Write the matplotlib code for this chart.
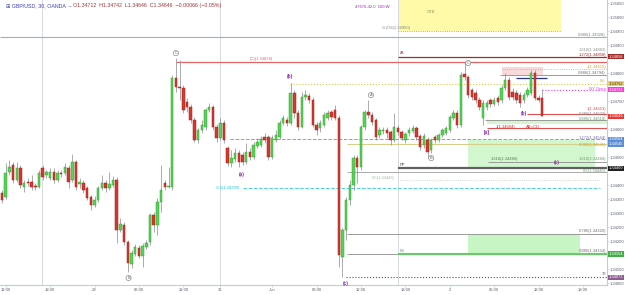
import matplotlib
matplotlib.use("Agg")
import matplotlib.pyplot as plt
from matplotlib.patches import Rectangle
import matplotlib.transforms as mtransforms
import numpy as np

plt.rcParams['font.family'] = ['Liberation Sans', 'DejaVu Sans']

# ---- candle data (30 min bars) ----
opens = [1.34371, 1.34357, 1.34446, 1.34471, 1.34418, 1.34461, 1.34393, 1.34411, 1.34411, 1.34396,
         1.34393, 1.34461, 1.34436, 1.34425, 1.34446, 1.34418, 1.34443, 1.34443, 1.34461, 1.34418,
         1.34482, 1.34404, 1.34407, 1.34389, 1.34357, 1.34329, 1.34346, 1.34389, 1.34407, 1.34389,
         1.34400, 1.34418, 1.34239, 1.34257, 1.34196, 1.34118, 1.34154, 1.34175, 1.34146, 1.34179,
         1.34196, 1.34293, 1.34257, 1.34339, 1.34407, 1.34393, 1.34393, 1.34782, 1.34750, 1.34746,
         1.34696, 1.34679, 1.34632, 1.34561, 1.34596, 1.34607, 1.34668, 1.34679, 1.34607, 1.34568,
         1.34621, 1.34532, 1.34479, 1.34493, 1.34514, 1.34507, 1.34482, 1.34518, 1.34500, 1.34539,
         1.34543, 1.34571, 1.34571, 1.34500, 1.34561, 1.34571, 1.34621, 1.34632, 1.34621, 1.34729,
         1.34657, 1.34607, 1.34714, 1.34718, 1.34704, 1.34614, 1.34604, 1.34614, 1.34639, 1.34661,
         1.34668, 1.34639, 1.34143, 1.34239, 1.34346, 1.34400, 1.34496, 1.34464, 1.34607, 1.34661,
         1.34650, 1.34632, 1.34579, 1.34593, 1.34596, 1.34589, 1.34561, 1.34604, 1.34589, 1.34561,
         1.34586, 1.34593, 1.34604, 1.34575, 1.34543, 1.34561, 1.34525, 1.34571, 1.34561, 1.34579,
         1.34586, 1.34596, 1.34639, 1.34657, 1.34614, 1.34796, 1.34786, 1.34739, 1.34729, 1.34704,
         1.34639, 1.34679, 1.34704, 1.34689, 1.34711, 1.34704, 1.34746, 1.34775, 1.34732, 1.34729,
         1.34721, 1.34704, 1.34721, 1.34729, 1.34800, 1.34711, 1.34712]
highs = [1.34382, 1.34479, 1.34489, 1.34482, 1.34482, 1.34471, 1.34418, 1.34425, 1.34436, 1.34407,
         1.34454, 1.34471, 1.34454, 1.34461, 1.34461, 1.34454, 1.34454, 1.34479, 1.34471, 1.34511,
         1.34489, 1.34425, 1.34418, 1.34396, 1.34364, 1.34361, 1.34396, 1.34436, 1.34418, 1.34446,
         1.34432, 1.34429, 1.34282, 1.34268, 1.34204, 1.34168, 1.34189, 1.34186, 1.34193, 1.34204,
         1.34300, 1.34304, 1.34354, 1.34471, 1.34418, 1.34464, 1.34793, 1.34854, 1.34846, 1.34757,
         1.34711, 1.34689, 1.34643, 1.34604, 1.34632, 1.34675, 1.34693, 1.34686, 1.34618, 1.34639,
         1.34632, 1.34539, 1.34525, 1.34532, 1.34525, 1.34518, 1.34550, 1.34532, 1.34554, 1.34568,
         1.34575, 1.34586, 1.34579, 1.34579, 1.34596, 1.34632, 1.34650, 1.34643, 1.34764, 1.34739,
         1.34668, 1.34732, 1.34739, 1.34729, 1.34714, 1.34625, 1.34632, 1.34661, 1.34668, 1.34668,
         1.34686, 1.34650, 1.34246, 1.34357, 1.34418, 1.34507, 1.34507, 1.34614, 1.34668, 1.34704,
         1.34661, 1.34639, 1.34607, 1.34607, 1.34607, 1.34596, 1.34657, 1.34614, 1.34596, 1.34589,
         1.34607, 1.34614, 1.34611, 1.34582, 1.34586, 1.34571, 1.34568, 1.34579, 1.34586, 1.34604,
         1.34611, 1.34650, 1.34668, 1.34668, 1.34804, 1.34839, 1.34793, 1.34746, 1.34739, 1.34714,
         1.34704, 1.34704, 1.34711, 1.34714, 1.34721, 1.34757, 1.34800, 1.34786, 1.34746, 1.34739,
         1.34732, 1.34732, 1.34750, 1.34811, 1.34811, 1.34721, 1.34742]
lows = [1.34336, 1.34350, 1.34436, 1.34407, 1.34411, 1.34389, 1.34375, 1.34396, 1.34382, 1.34382,
        1.34389, 1.34418, 1.34425, 1.34418, 1.34407, 1.34411, 1.34429, 1.34436, 1.34389, 1.34411,
        1.34382, 1.34389, 1.34371, 1.34346, 1.34311, 1.34321, 1.34339, 1.34382, 1.34375, 1.34382,
        1.34393, 1.34193, 1.34232, 1.34186, 1.34089, 1.34104, 1.34146, 1.34139, 1.34107, 1.34171,
        1.34186, 1.34232, 1.34221, 1.34304, 1.34382, 1.34389, 1.34382, 1.34732, 1.34704, 1.34657,
        1.34661, 1.34621, 1.34554, 1.34550, 1.34586, 1.34596, 1.34661, 1.34596, 1.34554, 1.34561,
        1.34550, 1.34468, 1.34464, 1.34482, 1.34464, 1.34471, 1.34475, 1.34489, 1.34493, 1.34532,
        1.34536, 1.34550, 1.34489, 1.34493, 1.34554, 1.34564, 1.34614, 1.34611, 1.34614, 1.34639,
        1.34596, 1.34604, 1.34704, 1.34693, 1.34607, 1.34579, 1.34589, 1.34607, 1.34632, 1.34632,
        1.34632, 1.34107, 1.34071, 1.34204, 1.34329, 1.34382, 1.34407, 1.34454, 1.34596, 1.34639,
        1.34614, 1.34561, 1.34568, 1.34582, 1.34568, 1.34543, 1.34554, 1.34579, 1.34561, 1.34550,
        1.34575, 1.34586, 1.34561, 1.34525, 1.34532, 1.34500, 1.34514, 1.34550, 1.34554, 1.34571,
        1.34579, 1.34589, 1.34632, 1.34604, 1.34607, 1.34775, 1.34711, 1.34704, 1.34693, 1.34668,
        1.34614, 1.34668, 1.34679, 1.34682, 1.34686, 1.34693, 1.34739, 1.34704, 1.34704, 1.34693,
        1.34679, 1.34693, 1.34714, 1.34721, 1.34704, 1.34696, 1.34646]
closes = [1.34346, 1.34443, 1.34464, 1.34418, 1.34461, 1.34400, 1.34407, 1.34407, 1.34393, 1.34393,
          1.34443, 1.34429, 1.34446, 1.34446, 1.34418, 1.34443, 1.34439, 1.34464, 1.34411, 1.34482,
          1.34393, 1.34411, 1.34382, 1.34354, 1.34329, 1.34346, 1.34389, 1.34407, 1.34389, 1.34404,
          1.34418, 1.34239, 1.34261, 1.34196, 1.34121, 1.34157, 1.34179, 1.34146, 1.34182, 1.34193,
          1.34293, 1.34257, 1.34339, 1.34382, 1.34393, 1.34396, 1.34782, 1.34750, 1.34746, 1.34668,
          1.34679, 1.34632, 1.34561, 1.34596, 1.34614, 1.34668, 1.34679, 1.34607, 1.34568, 1.34621,
          1.34561, 1.34479, 1.34496, 1.34514, 1.34482, 1.34482, 1.34518, 1.34500, 1.34543, 1.34554,
          1.34564, 1.34561, 1.34500, 1.34568, 1.34579, 1.34621, 1.34639, 1.34621, 1.34729, 1.34657,
          1.34607, 1.34714, 1.34721, 1.34704, 1.34614, 1.34596, 1.34621, 1.34650, 1.34657, 1.34643,
          1.34639, 1.34150, 1.34239, 1.34346, 1.34400, 1.34496, 1.34464, 1.34607, 1.34661, 1.34650,
          1.34625, 1.34571, 1.34596, 1.34596, 1.34586, 1.34561, 1.34607, 1.34589, 1.34568, 1.34582,
          1.34596, 1.34604, 1.34571, 1.34536, 1.34575, 1.34518, 1.34561, 1.34561, 1.34579, 1.34596,
          1.34604, 1.34643, 1.34657, 1.34614, 1.34793, 1.34786, 1.34721, 1.34714, 1.34704, 1.34679,
          1.34693, 1.34693, 1.34689, 1.34704, 1.34696, 1.34746, 1.34775, 1.34714, 1.34714, 1.34704,
          1.34693, 1.34721, 1.34739, 1.34800, 1.34711, 1.34704, 1.34646]

# ---- axis labels ----
tick_pos = [1, 13, 25, 37, 49, 59, 73, 85, 97, 109, 121, 133, 145, 157]
tick_labels = ["12:00", "18:00", "29", "06:00", "12:00", "31", "Jun", "06:00",
               "12:00", "18:00", "2", "06:00", "12:00", "18:00"]
day_breaks = [10.8, 59, 107]
price_ticks = [1.3405, 1.3410, 1.3420, 1.3425, 1.3430, 1.3435, 1.3440, 1.3450,
               1.3460, 1.3470, 1.3480, 1.3490, 1.3495, 1.3500, 1.3505]

# right axis price tags
tag_prices = [1.34858, 1.34762, 1.34741, 1.34646, 1.34564, 1.34545, 1.34460, 1.34154, 1.34071]
tag_colors = ['#a52a2a', '#f0d060', '#ff3dd4', '#e53935', '#5b8ed6', '#5b8ed6', '#202020', '#43b047', '#8e5c8e']

# drawn levels: price, from bar, to bar, color, style, width
levels = [
    (1.34928, -0.5, 163.5, '#9fb0c4', '-', 0.8),
    (1.34950, 107, 151, '#909090', ':', 0.6),
    (1.34858, 107, 163.5, '#a52a2a', '-', 0.9),
    (1.34839, 47, 163.5, '#e06666', '-', 0.9),
    (1.34816, 135, 163.5, '#e6a23c', ':', 0.6),
    (1.34794, 134.6, 163.5, '#8c8c8c', '-', 0.6),
    (1.34782, 139, 147.3, '#283593', '-', 0.9),
    (1.34762, 77.8, 163.5, '#d4c94a', ':', 0.8),
    (1.34741, 146, 163.5, '#e040fb', ':', 0.8),
    (1.34653, 142, 163.5, '#e05050', '-', 0.8),
    (1.34633, 130.5, 163.5, '#8c8c8c', '-', 0.6),
    (1.34604, 131, 163.5, '#e05050', '-', 0.8),
    (1.34564, 61.6, 163.5, '#9e9e9e', '--', 0.7),
    (1.34545, 93.2, 163.5, '#d6d08a', '-', 0.8),
    (1.34484, 131.4, 163.5, '#8c8c8c', '-', 0.6),
    (1.34460, 107, 163.5, '#606060', '-', 1.6),
    (1.34446, 93.2, 163.5, '#9e9e9e', '-', 0.6),
    (1.34418, 107.6, 161.6, '#b5d6b5', ':', 0.6),
    (1.34389, 65, 161.6, '#4dd0e1', '--', 0.7),
    (1.34226, 93.2, 163.5, '#8c8c8c', '-', 0.6),
    (1.34154, 93.2, 163.5, '#8c8c8c', '-', 0.6),
    (1.34154, 107, 163.5, '#66cc66', '-', 1.5),
    (1.34071, 93, 163.5, '#555555', ':', 0.8),
]

# zones: from bar, to bar, low, high, color
zones = [
    (107, 151, 1.34950, 1.35070, '#fffaa8'),
    (135, 146.2, 1.34793, 1.34821, '#f8dada'),
    (126, 160.3, 1.34461, 1.34561, '#d2f7cf'),
    (126, 156.2, 1.34154, 1.34226, '#c8f5c4'),
    (131, 163.5, 1.34618, 1.34633, '#d8f5d0'),
]

# level captions at the right edge: price, text, color
right_notes = [
    (1.34936, "0.886(1.34928)", '#808080'),
    (1.34883, "1.618(1.34883)", '#909090'),
    (1.34865, "1.272(1.34858)", '#a52a2a'),
    (1.34823, "1(1.34816)", '#e6a23c'),
    (1.34801, "0.886(1.34794)", '#707070'),
    (1.34770, "0%", '#c8b800'),
    (1.34743, "NY Open", '#e040fb'),
    (1.34671, "1(1.34653)", '#e05050'),
    (1.34654, "0.786(1.34633)", '#808080'),
    (1.34636, "0.886(1.34618)", '#6f9f6f'),
    (1.34568, "1.272(1.34564)", '#7b6fa8'),
    (1.34543, "0.382(1.34545)", '#c9a227'),
    (1.34493, "1.618(1.34484)", '#6f9f6f'),
    (1.34450, "0.5(1.34446)", '#6f9f6f'),
    (1.34236, "0.786(1.34226)", '#707070'),
    (1.34164, "0.886(1.34154)", '#707070'),
    (1.34082, "78", '#707070'),
]

# free captions: bar, price, text, color
notes = [
    (106.5, 1.34962, "-0.272(1.34950)", '#808080'),
    (116, 1.35018, "OTE", '#8c8c50'),
    (100, 1.35036, "47670-42.0  100 W", '#9c27b0'),
    (108.3, 1.34870, "A1", '#a52a2a'),
    (70, 1.34849, "(C)(1.34839)", '#e06666'),
    (136, 1.34607, "1(1.34604)", '#c03030'),
    (143.5, 1.34607, "AB=CD", '#e03030'),
    (135.8, 1.34494, "1.618(1.34484)", '#5a7a5a'),
    (108.2, 1.34473, "PP", '#505050'),
    (103, 1.34425, "0.5(1.34446)", '#9fbf9f'),
    (61, 1.34389, "-0.5(1.34389)", '#26c6da'),
    (108.2, 1.34166, "B1", '#6a9a6a'),
]

# wave labels
circle_waves = [(34.2, 1.34068, "B"), (47, 1.34871, "C"), (99.7, 1.34721, "A"),
                (116, 1.34496, "B"), (126, 1.34836, "C")]
purple_waves = [(64.9, 1.34436, "(a)"), (77.8, 1.34786, "(b)"), (93, 1.34050, "(c)"),
                (131, 1.34589, "[a]"), (141, 1.34654, "(b)"), (150, 1.34482, "(c)")]

fig = plt.figure(figsize=(6.25, 2.95), dpi=100)
ax = fig.add_axes([0, 10 / 295, 607 / 625, 285 / 295])
ax.set_xlim(-0.54, 163.5)
ax.set_ylim(1.34043, 1.35061)

# zones first
for x0, x1, lo, hi, col in zones:
    ax.add_patch(Rectangle((x0, lo), x1 - x0, hi - lo, facecolor=col, edgecolor='none', zorder=0))

for x in day_breaks:
    ax.axvline(x, color='#d5dbe3', lw=0.7, zorder=0.5)

for p, x0, x1, col, ls, lw in levels:
    ax.hlines(p, x0, x1, colors=col, linestyles=ls, lw=lw, zorder=1)

# candles
xs = np.arange(len(closes))
o = np.array(opens)
c = np.array(closes)
up = c >= o
face = np.where(up, '#55d455', '#d9362f')
edge = np.where(up, '#3a9d3a', '#9e2420')
ax.vlines(xs, lows, highs, colors='#8a8a8a', lw=0.5, zorder=2)
body = np.maximum(np.abs(c - o), 0.000012)
ax.bar(xs, body, bottom=np.minimum(o, c), width=0.66, color=face,
       edgecolor=edge, linewidth=0.35, zorder=3)

# captions
rx = 163.2
for p, t, col in right_notes:
    ax.text(rx, p, t, fontsize=3, color=col, ha='right', va='center', zorder=4)
for x, p, t, col in notes:
    ax.text(x, p, t, fontsize=3, color=col, ha='center', va='center', zorder=4)

for x, p, t in circle_waves:
    ax.text(x, p, t, fontsize=2.8, color='#606060', ha='center', va='center', zorder=5,
            bbox=dict(boxstyle='circle,pad=0.15', fc='white', ec='#707070', lw=0.4))
for x, p, t in purple_waves:
    ax.text(x, p, t, fontsize=3.4, color='#8e24aa', ha='center', va='center', zorder=5,
            fontweight='bold')

# axes styling
for s in ['top', 'left']:
    ax.spines[s].set_visible(False)
for s in ['right', 'bottom']:
    ax.spines[s].set_color('#c0ccd8')
    ax.spines[s].set_linewidth(0.8)
ax.yaxis.tick_right()
ax.set_yticks(price_ticks)
ax.set_yticklabels([f"{p:.5f}" for p in price_ticks])
ax.set_xticks(tick_pos)
ax.set_xticklabels(tick_labels)
ax.tick_params(axis='both', labelsize=3.0, labelcolor='#5a6070', color='#c0ccd8',
               length=1.2, width=0.5, pad=1.0)

trans = mtransforms.blended_transform_factory(ax.transAxes, ax.transData)
for p, col in zip(tag_prices, tag_colors):
    tc = '#333333' if col == '#f0d060' else 'white'
    ax.text(1.003, p, f"{p:.5f}", transform=trans, fontsize=2.9, color=tc, ha='left',
            va='center', clip_on=False, zorder=6,
            bbox=dict(boxstyle='square,pad=0.15', fc=col, ec='none'))

# header
hy = 1 - 6 / 295
fig.text(6 / 625, hy, "\u229e GBP/USD, 30, OANDA  \u2013", color='#3f3fbf', fontsize=3.8, va='center')
fig.text(73 / 625, hy,
         f"O{opens[-1]:.5f}  H{highs[-1]:.5f}  L{lows[-1]:.5f}  C{closes[-1]:.5f}  "
         f"\u22120.00066 (\u22120.05%)", color='#a83232', fontsize=3.8, va='center')

fig.savefig("out.png", dpi=100, facecolor='white')
